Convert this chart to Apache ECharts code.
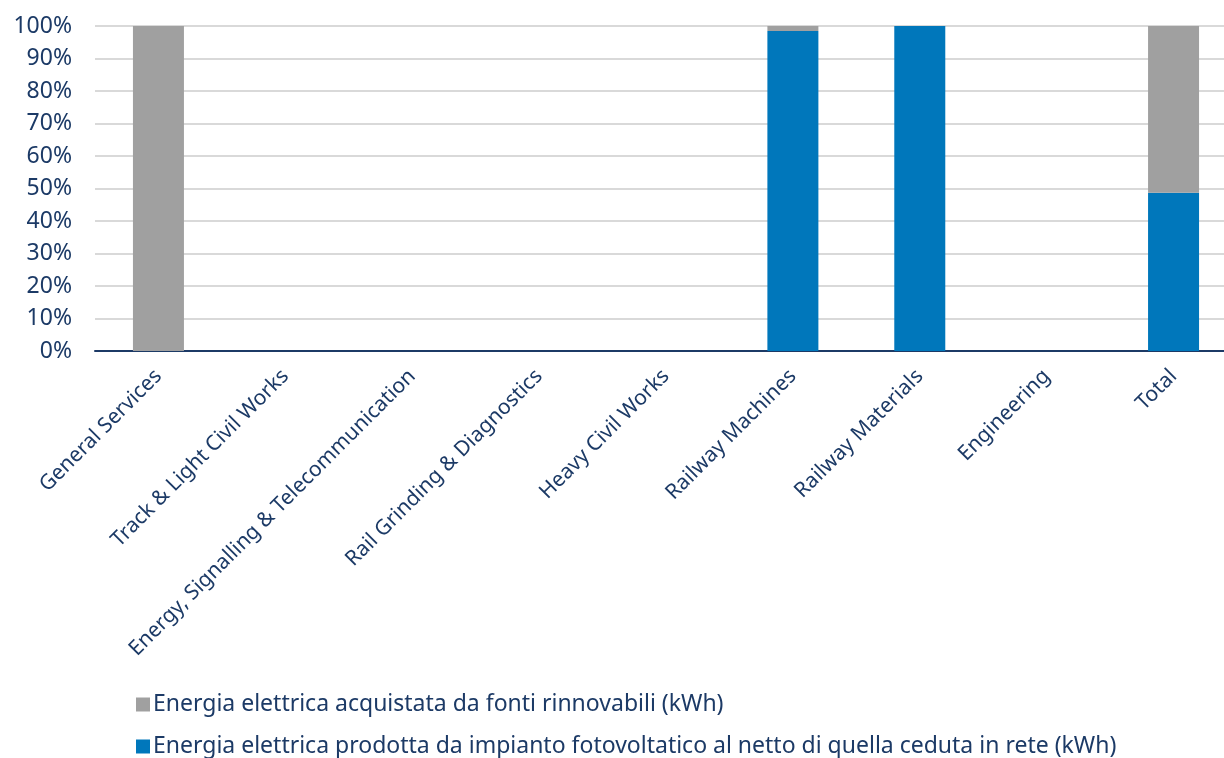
<!DOCTYPE html>
<html>
<head>
<meta charset="utf-8">
<script src="https://cdn.jsdelivr.net/npm/echarts@6/dist/echarts.min.js"></script>
<style>
  html, body { margin: 0; padding: 0; background: #fff; overflow: hidden; }
  #chart { width: 1240px; height: 758px; }
</style>
</head>
<body>
<div id="chart"></div>
<script>
var categories = [
  'General Services',
  'Track & Light Civil Works',
  'Energy, Signalling & Telecommunication',
  'Rail Grinding & Diagnostics',
  'Heavy Civil Works',
  'Railway Machines',
  'Railway Materials',
  'Engineering',
  'Total'
];
var seriesNames = [
  'Energia elettrica acquistata da fonti rinnovabili (kWh)',
  'Energia elettrica prodotta da impianto fotovoltatico al netto di quella ceduta in rete (kWh)'
];
// percent shares
var renewablePurchased = [100, null, null, null, null, 1.5, null, null, 51.3];
var solarProduced = [null, null, null, null, null, 98.5, 100, null, 48.7];

var textColor = '#1c3a66';
var font = '"Noto Sans", Lato, sans-serif';
var chart = echarts.init(document.getElementById('chart'));

function legendAt(top, name) {
  return {
    left: 131,
    top: top,
    itemWidth: 14,
    itemHeight: 14,
    icon: 'rect',
    data: [name],
    textStyle: { color: textColor, fontSize: 23, fontFamily: font, padding: [0, 0, 0, -2] }
  };
}

chart.setOption({
  animation: false,
  textStyle: { fontFamily: font },
  grid: {
    left: 95,
    right: 3,
    top: 26,
    bottom: 407
  },
  legend: [
    legendAt(688, seriesNames[0]),
    legendAt(730, seriesNames[1])
  ],
  xAxis: {
    type: 'category',
    data: categories,
    axisTick: { show: false },
    axisLine: { lineStyle: { color: '#1c3a66', width: 2 } },
    axisLabel: {
      rotate: 45,
      interval: 0,
      margin: 22,
      color: textColor,
      fontSize: 21
    }
  },
  yAxis: {
    type: 'value',
    min: 0,
    max: 100,
    interval: 10,
    axisLine: { show: false },
    axisTick: { show: false },
    splitLine: { lineStyle: { color: '#d9d9d9', width: 2 } },
    axisLabel: {
      color: textColor,
      fontSize: 23,
      margin: 23,
      formatter: '{value}%'
    }
  },
  series: [
    {
      name: seriesNames[1],
      type: 'bar',
      stack: 'share',
      barWidth: 51,
      itemStyle: { color: '#0077bb' },
      data: solarProduced
    },
    {
      name: seriesNames[0],
      type: 'bar',
      stack: 'share',
      barWidth: 51,
      itemStyle: { color: '#a0a0a0' },
      data: renewablePurchased
    }
  ]
});
</script>
</body>
</html>
